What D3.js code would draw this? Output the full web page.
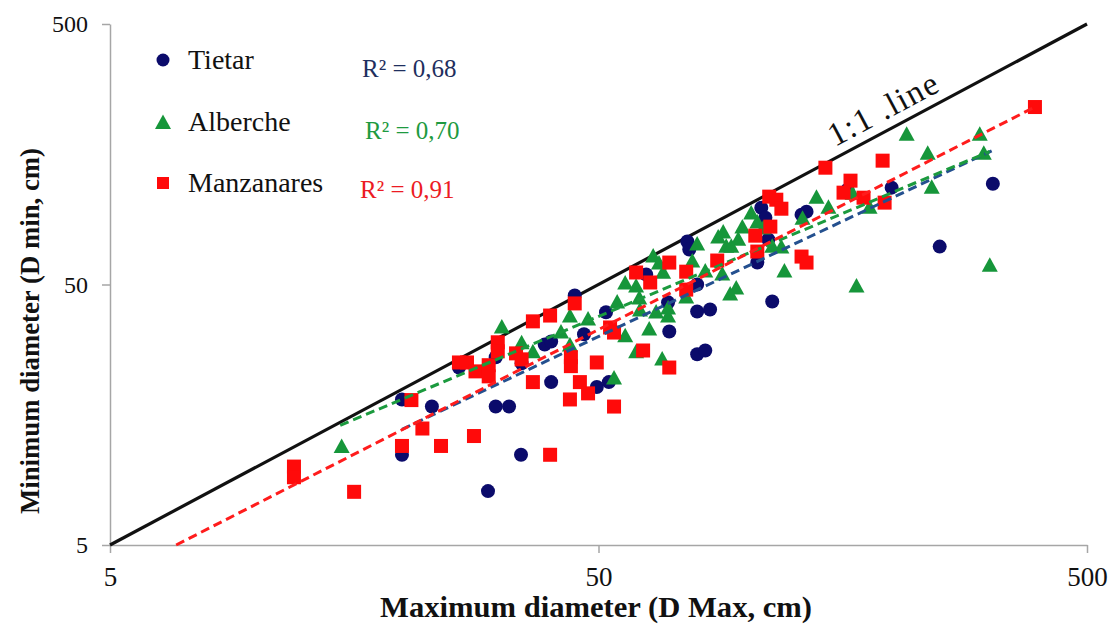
<!DOCTYPE html>
<html>
<head>
<meta charset="utf-8">
<script src="https://cdn.jsdelivr.net/npm/d3@7"></script>
<style>
body{margin:0;background:#fff;}
svg{display:block;font-family:"Liberation Serif","Times New Roman",serif;}
</style>
</head>
<body>
<svg id="chart" width="1110" height="624"></svg>
<script>
// values (cm)
var tietarX = [19.8, 19.8, 22.8, 25.9, 30.8, 30.8, 32.8, 29.7, 34.7, 34.8, 38.8, 40.0, 40.0, 44.7, 46.7, 49.6, 52.5, 51.8, 62.6, 69.8,
    69.4, 76.0, 76.7, 79.6, 79.6, 84.6, 79.6, 82.7, 105.7, 107.7, 109.8, 111.3, 113.4, 130.2, 133.3, 161.7, 199.1, 249.7, 320.8];
var tietarY = [18.1, 11.1, 17.0, 24.0, 26.3, 17.0, 17.0, 8.05, 11.1, 24.9, 29.4, 30.2, 21.1, 45.4, 32.2, 20.2, 21.1, 39.1, 54.6, 33.0,
    42.7, 73.1, 68.1, 50.0, 39.4, 40.1, 27.0, 27.9, 60.7, 98.6, 90.3, 74.4, 43.0, 92.7, 95.2, 115.6, 117.7, 69.9, 121.9];

var albercheX = [14.9, 31.7, 34.8, 36.7, 41.9, 43.7, 43.7, 47.6, 54.6, 56.7, 59.7, 60.6, 60.8, 56.7, 63.5, 65.6, 59.7, 67.5, 53.8,
    64.7, 66.5, 67.8, 69.4, 69.4, 75.6, 77.8, 79.6, 82.7, 87.9, 90.0, 91.3, 93.5, 96.6, 98.5, 102.7, 105.7, 108.7, 89.6, 93.0,
    95.7, 113.4, 118.4, 120.1, 139.7, 147.8, 130.8, 165.6, 179.4, 213.7, 236.0, 301.6, 307.4, 240.5, 316.2, 168.7];
var albercheY = [12.0, 34.5, 30.0, 27.7, 33.0, 38.0, 29.4, 37.0, 43.0, 50.9, 49.6, 44.6, 40.1, 31.9, 33.9, 39.4, 27.7, 26.0, 22.0,
    64.6, 60.7, 56.0, 40.8, 38.0, 45.0, 61.8, 71.8, 56.6, 76.4, 79.8, 70.5, 70.5, 75.0, 83.4, 94.4, 87.2, 82.7, 55.1, 46.2,
    48.7, 70.5, 69.9, 56.6, 108.7, 99.5, 90.3, 112.6, 99.5, 189.5, 160.3, 189.5, 160.3, 118.7, 59.6, 49.6];

var manzanaresX = [11.9, 11.9, 15.8, 19.8, 20.7, 21.8, 23.8, 27.8, 25.9, 26.9, 28.0, 29.8, 29.8, 31.1, 31.1, 33.9, 34.8, 36.7,
    39.8, 36.7, 39.8, 43.9, 43.9, 45.8, 47.6, 43.7, 49.6, 44.7, 52.8, 53.8, 53.8, 61.7, 69.8, 59.7, 63.8, 69.8, 75.6, 75.6,
    87.5, 104.7, 105.7, 111.8, 115.6, 118.4, 112.4, 130.2, 133.3, 145.7, 190.8, 164.0, 158.7, 174.4, 192.6, 391.2];
var manzanaresY = [10.0, 9.1, 8.0, 12.0, 18.0, 14.0, 12.0, 13.1, 25.1, 25.1, 23.2, 24.5, 22.2, 30.0, 27.7, 27.2, 25.8, 36.1,
    38.0, 21.1, 11.1, 26.3, 24.3, 21.1, 19.1, 18.1, 25.1, 42.3, 34.2, 32.7, 17.0, 27.9, 24.0, 55.6, 50.9, 60.7, 56.0, 47.8,
    61.8, 77.0, 66.9, 108.7, 105.8, 97.7, 83.4, 64.0, 60.7, 140.4, 149.4, 125.2, 112.6, 107.7, 103.1, 240.0];

// power trendlines, end points
var tietarTrend = [[19.8, 13.9], [319, 163]];
var albercheTrend = [[14.8, 14.4], [316, 162]];
var manzanaresTrend = [[6.83, 5], [391, 240]];
var oneToOne = [[5, 5], [500, 500]];

var seriesNames = ['Tietar', 'Alberche', 'Manzanares'];
var r2Labels = ['R\u00B2 = 0,68', 'R\u00B2 = 0,70', 'R\u00B2 = 0,91'];
var axisTicks = [5, 50, 500];

var colors = {
    tietar: '#0b0b6b',
    alberche: '#16963a',
    manzanares: '#ff0a0a',
    tietarTrend: '#24508f',
    albercheTrend: '#1b9a3e',
    manzanaresTrend: '#ff1c1c',
    r2: ['#1f2f5e', '#1e9a40', '#ec1b23'],
    axis: '#a6a6a6'
};

var svg = d3.select('#chart');

var scaleX = d3.scaleLog().domain([5, 500]).range([110, 1087]);
var scaleY = d3.scaleLog().domain([5, 500]).range([545, 24]);

var zip = function(xs, ys){
    return xs.map(function(d, i){ return [d, ys[i]]; });
};

// axes
var axisX = svg.append('g')
    .attr('transform', 'translate(0,' + scaleY(5) + ')')
    .call(d3.axisBottom(scaleX).tickValues(axisTicks).tickFormat(d3.format('d'))
        .tickSize(8).tickSizeOuter(0).tickPadding(14));
var axisY = svg.append('g')
    .attr('transform', 'translate(' + scaleX(5) + ',0)')
    .call(d3.axisLeft(scaleY).tickValues(axisTicks).tickFormat(d3.format('d'))
        .tickSize(8).tickSizeOuter(0).tickPadding(14));
[axisX, axisY].forEach(function(a){
    a.select('.domain').attr('stroke', colors.axis).attr('stroke-width', 1.5);
    a.selectAll('.tick line').attr('stroke', colors.axis).attr('stroke-width', 1.5);
    a.selectAll('.tick text').attr('fill', '#111')
        .style('font-family', '"Liberation Serif", serif');
});
axisX.selectAll('.tick text').style('font-size', '27px');
axisY.selectAll('.tick text').style('font-size', '24px');

var line = d3.line()
    .x(function(d){ return scaleX(d[0]); })
    .y(function(d){ return scaleY(d[1]); });

// 1:1 reference line
svg.append('path')
    .attr('d', line(oneToOne))
    .attr('fill', 'none')
    .attr('stroke', '#111')
    .attr('stroke-width', 3.2);

var angle = Math.atan2(scaleY(500) - scaleY(5), scaleX(500) - scaleX(5)) * 180 / Math.PI;
svg.append('text')
    .attr('transform', 'translate(' + scaleX(200) + ',' + scaleY(200) + ') rotate(' + angle + ') translate(0,-10)')
    .attr('text-anchor', 'middle')
    .attr('textLength', 120)
    .attr('lengthAdjust', 'spacing')
    .style('font-size', '33px')
    .attr('fill', '#111')
    .text('1:1 .line');

// markers
var trianglePath = 'M0,-8.5L8,6L-8,6Z';

var drawCircles = function(data, color){
    svg.append('g').selectAll('circle')
        .data(data)
        .enter().append('circle')
        .attr('cx', function(d){ return scaleX(d[0]); })
        .attr('cy', function(d){ return scaleY(d[1]); })
        .attr('r', 7)
        .attr('fill', color);
};
var drawTriangles = function(data, color){
    svg.append('g').selectAll('path')
        .data(data)
        .enter().append('path')
        .attr('d', trianglePath)
        .attr('transform', function(d){ return 'translate(' + scaleX(d[0]) + ',' + (scaleY(d[1]) + 1) + ')'; })
        .attr('fill', color);
};
var drawSquares = function(data, color){
    svg.append('g').selectAll('rect')
        .data(data)
        .enter().append('rect')
        .attr('x', function(d){ return scaleX(d[0]) - 7; })
        .attr('y', function(d){ return scaleY(d[1]) - 7; })
        .attr('width', 14)
        .attr('height', 14)
        .attr('fill', color);
};

drawCircles(zip(tietarX, tietarY), colors.tietar);
drawTriangles(zip(albercheX, albercheY), colors.alberche);
drawSquares(zip(manzanaresX, manzanaresY), colors.manzanares);

// trendlines
[[tietarTrend, colors.tietarTrend], [albercheTrend, colors.albercheTrend], [manzanaresTrend, colors.manzanaresTrend]]
    .forEach(function(t){
        svg.append('path')
            .attr('d', line(t[0]))
            .attr('fill', 'none')
            .attr('stroke', t[1])
            .attr('stroke-width', 3)
            .attr('stroke-dasharray', '9,5');
    });

// legend
var legendY = [60, 122, 183];
var legend = svg.append('g');
legend.append('circle').attr('cx', 163).attr('cy', legendY[0]).attr('r', 6.5).attr('fill', colors.tietar);
legend.append('path').attr('d', trianglePath)
    .attr('transform', 'translate(163,' + (legendY[1] + 1) + ')').attr('fill', colors.alberche);
legend.append('rect').attr('x', 157).attr('y', legendY[2] - 6).attr('width', 12).attr('height', 12)
    .attr('fill', colors.manzanares);
legend.selectAll('text.name')
    .data(seriesNames)
    .enter().append('text')
    .attr('class', 'name')
    .attr('x', 188)
    .attr('y', function(d, i){ return legendY[i] + 9; })
    .style('font-size', '28px')
    .attr('fill', '#111')
    .text(function(d){ return d; });

var r2X = [362, 365, 360];
var r2Y = [77, 139, 198];
legend.selectAll('text.r2')
    .data(r2Labels)
    .enter().append('text')
    .attr('class', 'r2')
    .attr('x', function(d, i){ return r2X[i]; })
    .attr('y', function(d, i){ return r2Y[i]; })
    .style('font-size', '25px')
    .attr('fill', function(d, i){ return colors.r2[i]; })
    .text(function(d){ return d; });

// axis titles
svg.append('text')
    .attr('x', 596)
    .attr('y', 617)
    .attr('text-anchor', 'middle')
    .attr('textLength', 432)
    .attr('lengthAdjust', 'spacingAndGlyphs')
    .style('font-size', '29px')
    .style('font-weight', 'bold')
    .attr('fill', '#111')
    .text('Maximum diameter (D Max, cm)');

svg.append('text')
    .attr('transform', 'translate(39,331) rotate(-90)')
    .attr('text-anchor', 'middle')
    .attr('textLength', 366)
    .attr('lengthAdjust', 'spacingAndGlyphs')
    .style('font-size', '28px')
    .style('font-weight', 'bold')
    .attr('fill', '#111')
    .text('Minimum diameter (D min, cm)');
</script>
</body>
</html>
